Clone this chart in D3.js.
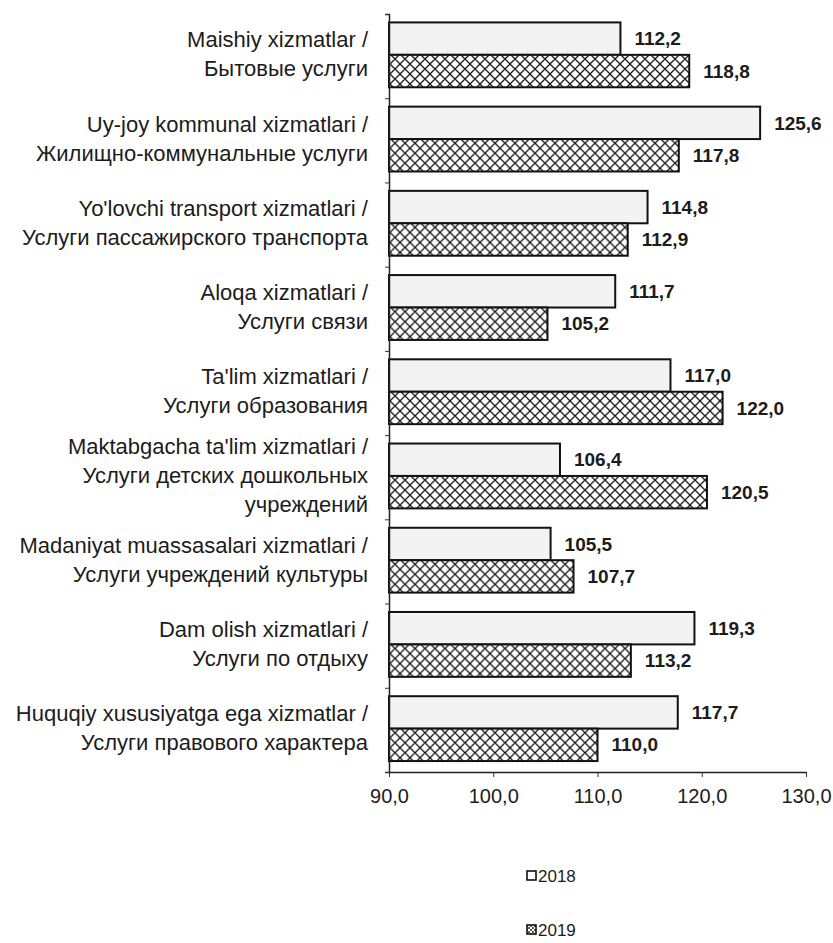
<!DOCTYPE html>
<html>
<head>
<meta charset="utf-8">
<script src="https://cdn.jsdelivr.net/npm/d3@7"></script>
<style>
    body { margin: 0; background: #fff; }
    text { font-family: "Liberation Sans", Arial, sans-serif; fill: #1c1c1c; }
</style>
</head>
<body>
<div id="chart"></div>
<script>
// Categories (Uzbek / Russian), one entry per line of the label
const categories = [
    ['Maishiy xizmatlar /', 'Бытовые услуги'],
    ['Uy-joy kommunal xizmatlari /', 'Жилищно-коммунальные услуги'],
    ["Yo'lovchi transport xizmatlari /", 'Услуги пассажирского транспорта'],
    ['Aloqa xizmatlari /', 'Услуги связи'],
    ["Ta'lim xizmatlari /", 'Услуги образования'],
    ["Maktabgacha ta'lim xizmatlari /", 'Услуги детских дошкольных', 'учреждений'],
    ['Madaniyat muassasalari xizmatlari /', 'Услуги учреждений культуры'],
    ['Dam olish xizmatlari /', 'Услуги по отдыху'],
    ['Huquqiy xususiyatga ega xizmatlar /', 'Услуги правового характера']
];
const years = ['2018', '2019'];
const values2018 = [112.2, 125.6, 114.8, 111.7, 117.0, 106.4, 105.5, 119.3, 117.7];
const values2019 = [118.8, 117.8, 112.9, 105.2, 122.0, 120.5, 107.7, 113.2, 110.0];
const xTicks = [90, 100, 110, 120, 130];

const width = 833,
    height = 943,
    margin = { top: 14, right: 27, bottom: 171, left: 389 };

const ruLocale = d3.formatLocale( { decimal: ',', thousands: ' ', grouping: [3], currency: ['', ''] } );
const fmt = ruLocale.format( '.1f' );

const rows = categories.map( ( c, i ) => ( { idx: i, lines: c, v: [values2018[i], values2019[i]] } ) );

const svg = d3.select( '#chart' )
    .append( 'svg' )
    .attr( 'width', width )
    .attr( 'height', height );

const defs = svg.append( 'defs' );
const hatch = defs.append( 'pattern' )
    .attr( 'id', 'crosshatch' )
    .attr( 'patternUnits', 'userSpaceOnUse' )
    .attr( 'width', 10 )
    .attr( 'height', 10 );
hatch.append( 'rect' ).attr( 'width', 10 ).attr( 'height', 10 ).attr( 'fill', '#fff' );
hatch.append( 'path' )
    .attr( 'd', 'M0,0L10,10M10,0L0,10M-5,5L0,10M5,-5L10,0M10,0L15,5' )
    .attr( 'stroke', '#1a1a1a' )
    .attr( 'stroke-width', 1.3 );

const smallHatch = defs.append( 'pattern' )
    .attr( 'id', 'crosshatchSmall' )
    .attr( 'patternUnits', 'userSpaceOnUse' )
    .attr( 'width', 4 )
    .attr( 'height', 4 );
smallHatch.append( 'rect' ).attr( 'width', 4 ).attr( 'height', 4 ).attr( 'fill', '#fff' );
smallHatch.append( 'path' )
    .attr( 'd', 'M0,0L4,4M4,0L0,4' )
    .attr( 'stroke', '#333' )
    .attr( 'stroke-width', 0.8 );

const fills = { '2018': '#f3f3f3', '2019': 'url(#crosshatch)' };

const x = d3.scaleLinear()
    .domain( [90, 130] )
    .range( [margin.left, width - margin.right] );

const y0 = d3.scaleBand()
    .domain( rows.map( d => d.idx ) )
    .range( [margin.top, height - margin.bottom] )
    .padding( 0 );

const y1 = d3.scaleBand()
    .domain( years )
    .range( [y0.bandwidth() * 0.1, y0.bandwidth() * 0.87] );

// Bars
const groups = svg.append( 'g' )
    .selectAll( 'g' )
    .data( rows )
    .join( 'g' )
        .attr( 'transform', d => 'translate(0,' + y0( d.idx ) + ')' );

groups.selectAll( 'rect' )
    .data( d => years.map( ( yr, j ) => ( { year: yr, value: d.v[j] } ) ) )
    .join( 'rect' )
        .attr( 'x', x( 90 ) )
        .attr( 'y', d => y1( d.year ) )
        .attr( 'height', y1.bandwidth() )
        .attr( 'width', d => x( d.value ) - x( 90 ) )
        .attr( 'fill', d => fills[d.year] )
        .attr( 'stroke', '#111' )
        .attr( 'stroke-width', 2 );

// Value labels
groups.selectAll( 'text.value' )
    .data( d => years.map( ( yr, j ) => ( { year: yr, value: d.v[j] } ) ) )
    .join( 'text' )
        .attr( 'class', 'value' )
        .attr( 'x', d => x( d.value ) + 14 )
        .attr( 'y', d => y1( d.year ) + y1.bandwidth() / 2 )
        .attr( 'dy', '0.35em' )
        .attr( 'font-size', '19px' )
        .attr( 'font-weight', 'bold' )
        .text( d => fmt( d.value ) );

// Category labels
const lineH = 29;
groups.append( 'text' )
    .attr( 'text-anchor', 'end' )
    .attr( 'font-size', '22px' )
    .each( function ( d ) {
        const n = d.lines.length;
        const mid = y0.bandwidth() / 2 - 2;
        d3.select( this ).selectAll( 'tspan' )
            .data( d.lines )
            .join( 'tspan' )
                .attr( 'x', margin.left - 21 )
                .attr( 'y', ( l, k ) => mid + ( k - ( n - 1 ) / 2 ) * lineH )
                .attr( 'dy', '0.35em' )
                .text( l => l );
    } );

// Y axis: line with small ticks at category boundaries
const yBound = d3.scaleLinear()
    .domain( [0, rows.length] )
    .range( [margin.top, height - margin.bottom] );

svg.append( 'g' )
    .attr( 'transform', 'translate(' + margin.left + ',0)' )
    .call( d3.axisLeft( yBound )
        .tickValues( d3.range( 0, rows.length + 1 ) )
        .tickSize( 4 )
        .tickFormat( '' ) )
    .call( g => g.select( '.domain' ).attr( 'stroke', '#222' ).attr( 'stroke-width', 1.5 ) )
    .call( g => g.selectAll( '.tick line' ).attr( 'stroke', '#333' ) );

// X axis
svg.append( 'g' )
    .attr( 'transform', 'translate(0,' + ( height - margin.bottom ) + ')' )
    .call( d3.axisBottom( x )
        .tickValues( xTicks )
        .tickSizeInner( 5 )
        .tickSizeOuter( 0 )
        .tickPadding( 12 )
        .tickFormat( fmt ) )
    .call( g => g.select( '.domain' ).attr( 'stroke', '#222' ).attr( 'stroke-width', 1.5 ) )
    .call( g => g.selectAll( '.tick line' ).attr( 'stroke', '#333' ) )
    .call( g => g.selectAll( '.tick text' )
        .attr( 'font-size', '20px' )
        .attr( 'fill', '#1c1c1c' )
        .style( 'font-family', '"Liberation Sans", Arial, sans-serif' ) );

// Legend, one entry per row
const legend = svg.append( 'g' )
    .selectAll( 'g' )
    .data( years )
    .join( 'g' )
        .attr( 'transform', ( d, i ) => 'translate(527,' + ( 876 + i * 54 ) + ')' );

legend.append( 'rect' )
    .attr( 'x', 0 )
    .attr( 'y', -5 )
    .attr( 'width', 9 )
    .attr( 'height', 9 )
    .attr( 'fill', d => d === '2018' ? '#fff' : 'url(#crosshatchSmall)' )
    .attr( 'stroke', '#111' )
    .attr( 'stroke-width', 1.6 );

legend.append( 'text' )
    .attr( 'x', 11 )
    .attr( 'dy', '0.35em' )
    .attr( 'font-size', '17px' )
    .text( d => d );
</script>
</body>
</html>
